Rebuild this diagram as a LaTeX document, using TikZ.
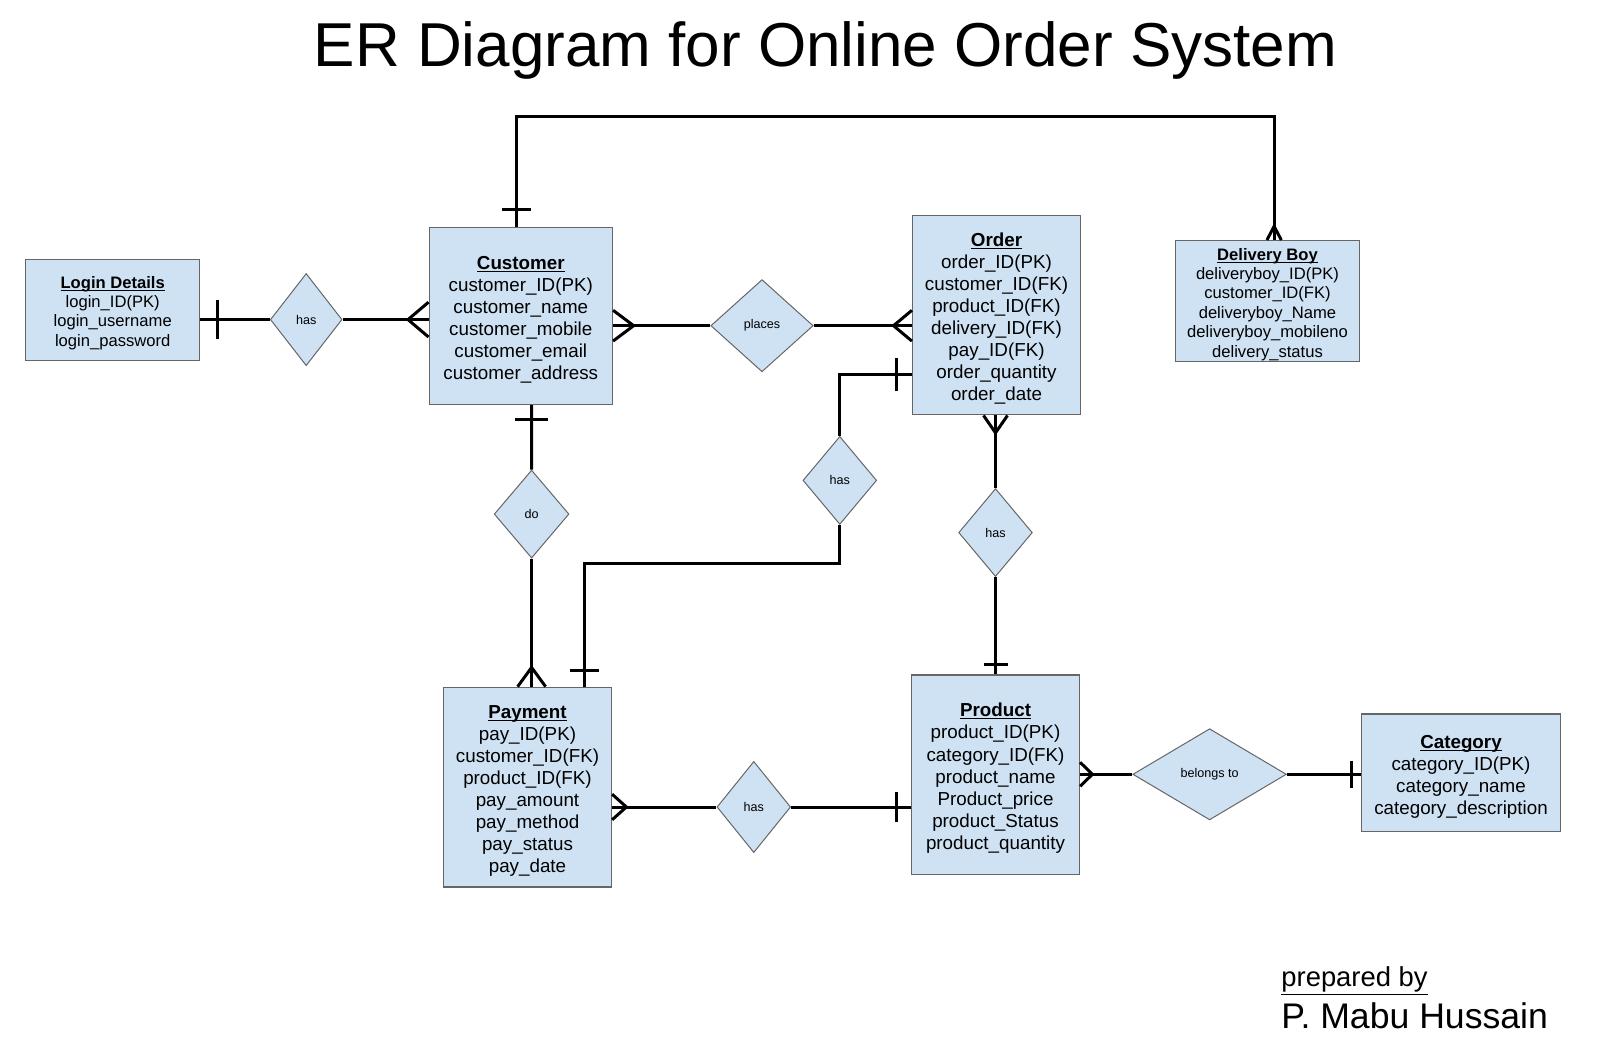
\documentclass[tikz,border=0pt]{standalone}
\usepackage{fontspec}
\setmainfont{Liberation Sans}
\usetikzlibrary{shapes.geometric}
\definecolor{entfill}{HTML}{CFE2F3}
\definecolor{entline}{HTML}{666666}
\newcommand{\entname}[1]{\rule{0pt}{1.1em}\setbox0\hbox{\textbf{#1}}\rlap{\rule[-1.3pt]{\wd0}{0.55pt}}\box0}

\begin{document}
\begin{tikzpicture}[x=0.5pt,y=-0.5pt,
  entity/.style={draw=entline,fill=entfill,line width=0.6pt,inner sep=0pt,align=center,
    font=\fontsize{9.4}{11.06}\selectfont},
  smallentity/.style={entity,font=\fontsize{8.3}{9.7}\selectfont},
  relation/.style={diamond,draw=entline,fill=entfill,line width=0.5pt,inner sep=0pt,
    font=\fontsize{6.3}{7}\selectfont},
  link/.style={line width=1.5pt,black}]
\useasboundingbox (0,0) rectangle (1606,1058);

% title and credits
\node (title) at (825.5,50) {\fontsize{31}{36}\selectfont ER Diagram for Online Order System};
\node[anchor=west,inner sep=0pt] (prep) at (1281,981) {\fontsize{13.7}{16}\selectfont\underline{prepared by}};
\node[anchor=west,inner sep=0pt] (auth) at (1281,1016) {\fontsize{17.8}{20}\selectfont P. Mabu Hussain};

% entities
\node[smallentity,minimum width=87pt,minimum height=50.5pt] (login) at (112.7,309.8)
  {\entname{Login Details}\\login\_ID(PK)\\login\_username\\login\_password};
\node[entity,minimum width=91.7pt,minimum height=88.6pt] (cust) at (520.8,316)
  {\entname{Customer}\\customer\_ID(PK)\\customer\_name\\customer\_mobile\\customer\_email\\customer\_address};
\node[entity,minimum width=84pt,minimum height=99.85pt] (order) at (996.5,315)
  {\entname{Order}\\order\_ID(PK)\\customer\_ID(FK)\\product\_ID(FK)\\delivery\_ID(FK)\\pay\_ID(FK)\\order\_quantity\\order\_date};
\node[smallentity,minimum width=91.7pt,minimum height=60.45pt] (dlv) at (1267.5,301.1)
  {\entname{Delivery Boy}\\deliveryboy\_ID(PK)\\customer\_ID(FK)\\deliveryboy\_Name\\deliveryboy\_mobileno\\delivery\_status};
\node[entity,minimum width=84pt,minimum height=99.85pt] (pay) at (527.5,787.1)
  {\entname{Payment}\\pay\_ID(PK)\\customer\_ID(FK)\\product\_ID(FK)\\pay\_amount\\pay\_method\\pay\_status\\pay\_date};
\node[entity,minimum width=84pt,minimum height=99.85pt] (prod) at (995.5,774.8)
  {\entname{Product}\\product\_ID(PK)\\category\_ID(FK)\\product\_name\\Product\_price\\product\_Status\\product\_quantity};
\node[entity,minimum width=99.85pt,minimum height=58.9pt] (cat) at (1461,772.8)
  {\entname{Category}\\category\_ID(PK)\\category\_name\\category\_description};

% relationships
\node[relation,minimum width=35.85pt,minimum height=46.1pt] (has1) at (306.2,319.6) {has};
\node[relation,minimum width=51.2pt,minimum height=46.1pt] (places) at (762,325.7) {places};
\node[relation,minimum width=37.4pt,minimum height=44pt] (do) at (531.6,514.1) {do};
\node[relation,minimum width=36.85pt,minimum height=44pt] (has2) at (839.8,480.4) {has};
\node[relation,minimum width=36.85pt,minimum height=44pt] (has3) at (995.5,532.6) {has};
\node[relation,minimum width=36.85pt,minimum height=45.6pt] (has4) at (753.8,807) {has};
\node[relation,minimum width=76.8pt,minimum height=45.6pt] (belongs) at (1209.6,774.3) {belongs to};

% login -- customer
\draw[link] (login.east |- has1) -- (has1.west);
\draw[link] (login.east |- has1) ++(17,-19.5) -- ++(0,39);
\draw[link] (has1.east) -- (has1.east -| cust.west);
\draw[link] (has1.east -| cust.west) ++(0,-17.4) -- ++(-20.5,17.4) -- ++(20.5,17.4);

% customer -- order
\draw[link] (cust.east |- places) -- (places.west);
\draw[link] (cust.east |- places) ++(0,-15.4) -- ++(20.5,15.4) -- ++(-20.5,15.4);
\draw[link] (places.east) -- (places.east -| order.west);
\draw[link] (places.east -| order.west) ++(0,-15.4) -- ++(-18.4,15.4) -- ++(18.4,15.4);

% customer -- delivery boy
\draw[link] ([xshift=-2.3pt]cust.north) -- ++(0,-110.6) -| ([xshift=3.3pt]dlv.north);
\draw[link] ([xshift=-2.3pt]cust.north) ++(-14.3,-17.4) -- ++(28.6,0);
\draw[link] ([xshift=3.3pt]dlv.north) ++(-7.2,0) -- ++(7.2,-13.7) -- ++(7.2,13.7);

% customer -- payment
\draw[link] ([xshift=5.4pt]cust.south) -- (do.north);
\draw[link] ([xshift=5.4pt]cust.south) ++(-16.4,14.4) -- ++(32.8,0);
\draw[link] (do.south) -- (do.south |- pay.north);
\draw[link] (do.south |- pay.north) ++(-14,0) -- ++(14,-19.2) -- ++(14,19.2);

% order -- payment
\draw[link] ([yshift=-29.95pt]order.west) -| (has2.north);
\draw[link] ([yshift=-29.95pt]order.west) ++(-15.6,-16.4) -- ++(0,32.8);
\draw[link] (has2.south) -- ++(0,38.9) -| ([xshift=28.65pt]pay.north);
\draw[link] ([xshift=28.65pt]pay.north) ++(-14.5,-16.2) -- ++(29,0);

% order -- product
\draw[link] (order.south -| has3) -- (has3.north);
\draw[link] (order.south -| has3) ++(-12,0) -- ++(12,17.4) -- ++(12,-17.4);
\draw[link] (has3.south) -- (has3.south |- prod.north);
\draw[link] (has3.south |- prod.north) ++(-12,-10.2) -- ++(24,0);

% payment -- product
\draw[link] (pay.east |- has4) -- (has4.west);
\draw[link] (pay.east |- has4) ++(0,-12.8) -- ++(14.3,12.8) -- ++(-14.3,12.8);
\draw[link] (has4.east) -- (has4.east -| prod.west);
\draw[link] (has4.east -| prod.west) ++(-14.3,-15.4) -- ++(0,30.8);

% product -- category
\draw[link] (prod.east |- belongs) -- (belongs.west);
\draw[link] (prod.east |- belongs) ++(0,-12) -- ++(12.3,12) -- ++(-12.3,12);
\draw[link] (belongs.east) -- (belongs.east -| cat.west);
\draw[link] (belongs.east -| cat.west) ++(-9.2,-13.3) -- ++(0,26.6);
\end{tikzpicture}
\end{document}
